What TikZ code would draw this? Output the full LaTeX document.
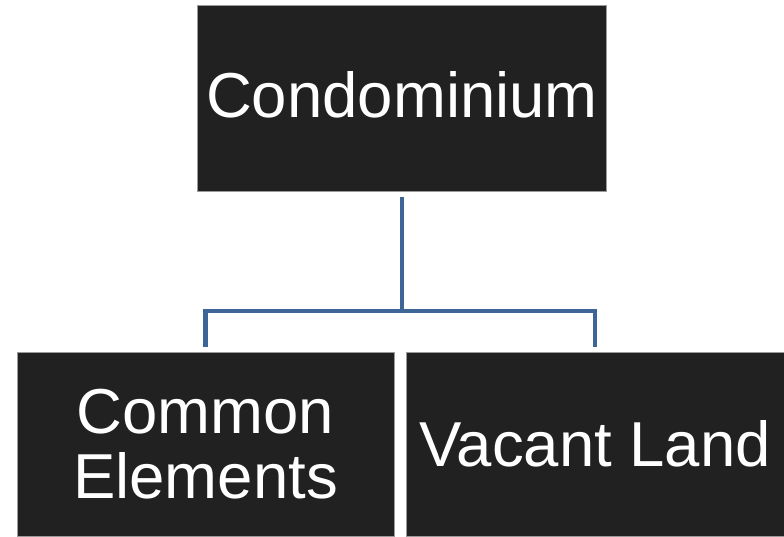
\documentclass[tikz,border=0pt]{standalone}
\usepackage{fontspec}
\setmainfont{Liberation Sans}
\usetikzlibrary{positioning,calc}
\definecolor{boxfill}{HTML}{212121}
\definecolor{boxedge}{HTML}{9A9A9A}
\definecolor{linkblue}{HTML}{3E6598}
\tikzset{
    x=1pt,
    y=-1pt,
    entity/.style = {
        draw=boxedge,
        fill=boxfill,
        shape=rectangle,
        line width=0.8pt,
        text=white,
        align=center,
        inner sep=0pt,
        font=\fontsize{63.5}{65}\selectfont
    },
    link/.style = {
        draw=linkblue,
        line width=4.5pt
    },
}
\begin{document}
\begin{tikzpicture}
            \useasboundingbox (0,0) rectangle (784,536);

            \node[entity, minimum width=409pt, minimum height=186pt, text depth=7pt] (condo) at (402,98) {Condominium};
            \node[entity, minimum width=377pt, minimum height=184pt] (common) at (205.5,444) {Common\\Elements};
            \node[entity, minimum width=378pt, minimum height=184pt] (vacant) at (595,444) {Vacant Land};

            \coordinate (fork) at (402,311);

            \path[link, shorten <=6pt] (condo.south) -- (fork);
            \path[link, shorten <=5pt, shorten >=5pt] (common.north) |- (fork) -| (vacant.north);

\end{tikzpicture}
\end{document}
